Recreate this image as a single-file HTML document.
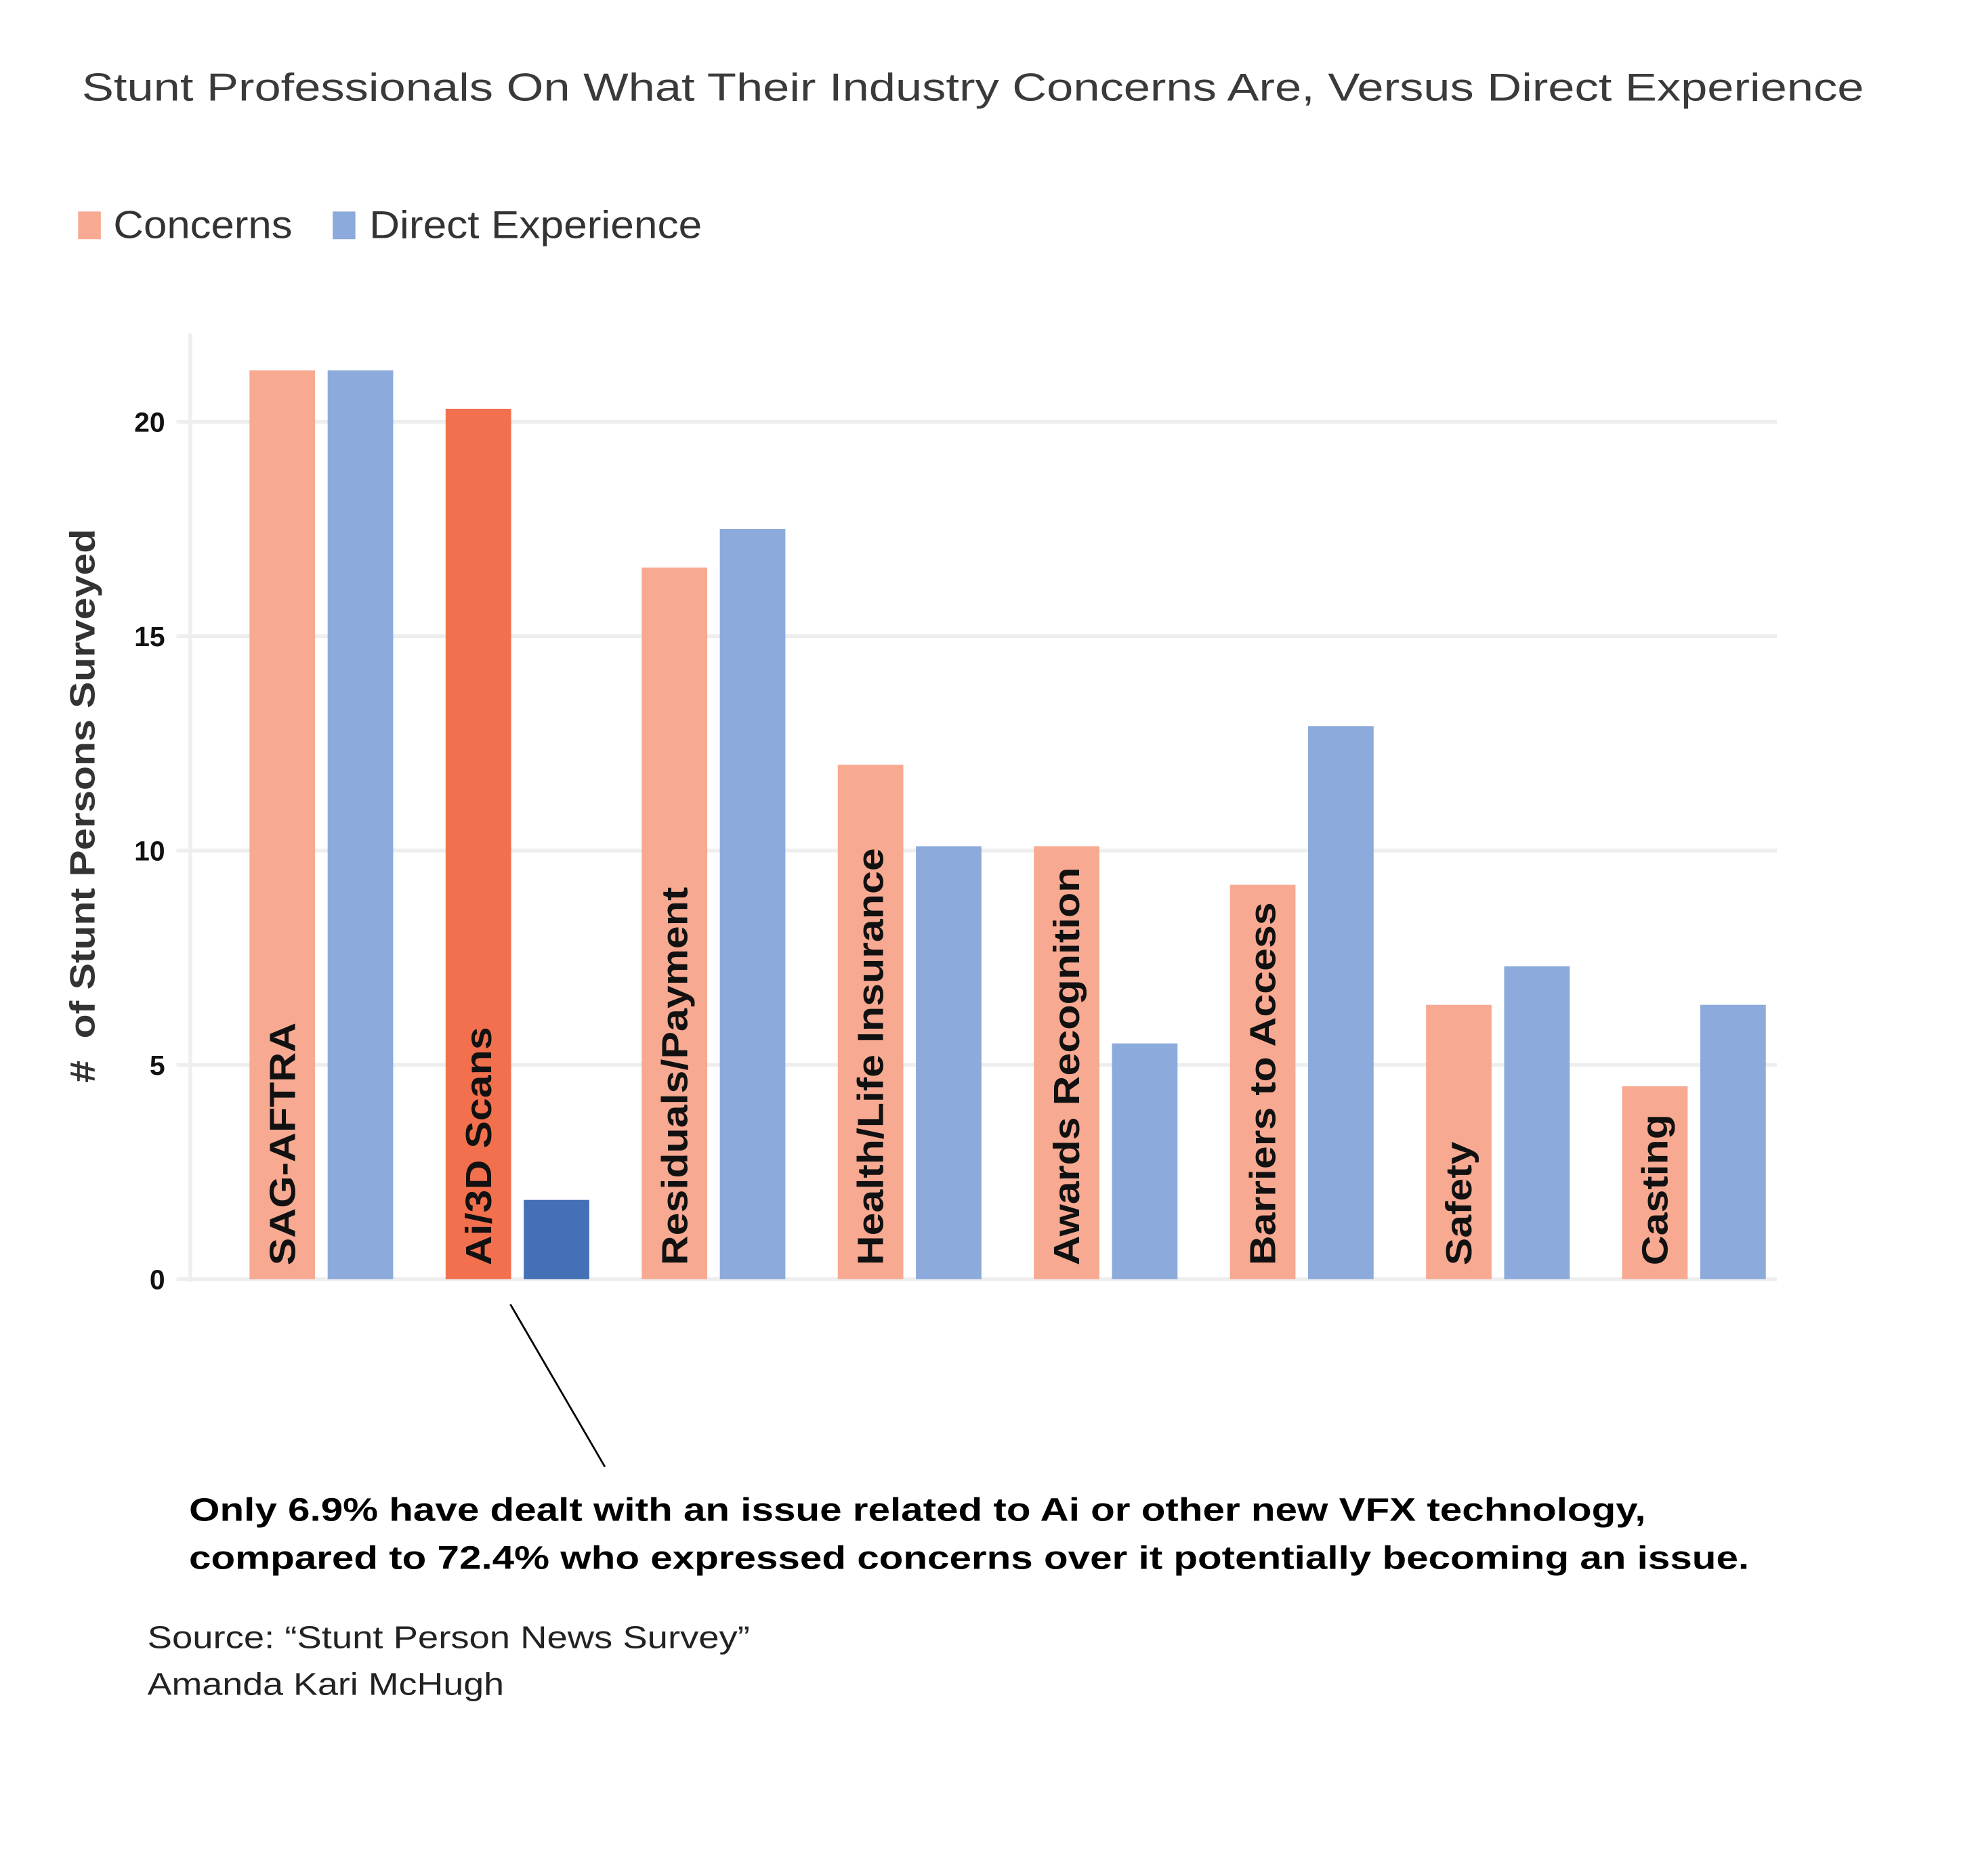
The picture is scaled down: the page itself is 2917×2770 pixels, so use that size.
<!DOCTYPE html>
<html><head><meta charset="utf-8"><style>
html,body{margin:0;padding:0;background:#fff;}
svg{display:block;}
text{font-family:"Liberation Sans",Arial,sans-serif;}
</style></head>
<body>
<svg id="chart" width="2917" height="2770" viewBox="0 0 1568 1490" preserveAspectRatio="none" xmlns="http://www.w3.org/2000/svg">
<rect width="1568" height="1490" fill="#fff"/>
<text x="772" y="80" text-anchor="middle" font-size="31" fill="#3a3a3a" textLength="1414" lengthAdjust="spacingAndGlyphs">Stunt Professionals On What Their Industry Concerns Are, Versus Direct Experience</text>
<g>
<rect x="62" y="168" width="18" height="22" fill="#F7A991"/>
<text x="90" y="189" font-size="31" fill="#333" textLength="142" lengthAdjust="spacingAndGlyphs">Concerns</text>
<rect x="264" y="168" width="18" height="22" fill="#8CAADB"/>
<text x="293" y="189" font-size="31" fill="#333" textLength="264" lengthAdjust="spacingAndGlyphs">Direct Experience</text>
</g>
<g id="grid"></g>
<line x1="151" y1="265" x2="151" y2="1018" stroke="#eeeeee" stroke-width="3"/>
<g id="ticks"></g>
<g id="bars"></g>
<g id="labels"></g>
<text transform="translate(75,640) rotate(-90)" text-anchor="middle" font-size="28" font-weight="bold" fill="#333" textLength="440" lengthAdjust="spacingAndGlyphs" xml:space="preserve">#  of Stunt Persons Surveyed</text>
<line x1="405" y1="1036" x2="480" y2="1165" stroke="#000" stroke-width="1.5"/>
<text x="150" y="1208" font-size="26" font-weight="bold" fill="#000" textLength="1156" lengthAdjust="spacingAndGlyphs">Only 6.9% have dealt with an issue related to Ai or other new VFX technology,</text>
<text x="150" y="1246" font-size="26" font-weight="bold" fill="#000" textLength="1238" lengthAdjust="spacingAndGlyphs">compared to 72.4% who expressed concerns over it potentially becoming an issue.</text>
<text x="117" y="1309" font-size="25" fill="#222" textLength="478" lengthAdjust="spacingAndGlyphs">Source: “Stunt Person News Survey”</text>
<text x="117" y="1346" font-size="25" fill="#222" textLength="283" lengthAdjust="spacingAndGlyphs">Amanda Kari McHugh</text>
</svg>
<script>
const categories = ["SAG-AFTRA","Ai/3D Scans","Residuals/Payment","Health/Life Insurance","Awards Recognition","Barriers to Access","Safety","Casting"];
const concernsValues = [21.2, 20.3, 16.6, 12.0, 10.1, 9.2, 6.4, 4.5];
const directValues = [21.2, 1.85, 17.5, 10.1, 5.5, 12.9, 7.3, 6.4];
const yTicks = [0, 5, 10, 15, 20];
const highlightCategory = "Ai/3D Scans";

const NS = "http://www.w3.org/2000/svg";
const y0 = 1016, unitPx = 34.05;
function yScale(v){ return y0 - v * unitPx; }
const groupStart = 198, groupStep = 155.6, barW = 52, barGap = 62;
function xScale(i){ return groupStart + i * groupStep; }
function mk(tag, attrs, parent){
  const el = document.createElementNS(NS, tag);
  for (const k in attrs) el.setAttribute(k, attrs[k]);
  parent.appendChild(el);
  return el;
}
const grid = document.getElementById('grid'), ticks = document.getElementById('ticks');
const bars = document.getElementById('bars'), labels = document.getElementById('labels');
yTicks.forEach(t => {
  const g = mk('line', {x1:140, x2:1410, y1:yScale(t), y2:yScale(t), stroke:'#eeeeee', 'stroke-width':3}, grid);
  
  
  const tx = mk('text', {x:131, y:yScale(t)+8, 'text-anchor':'end', 'font-size':22, 'font-weight':'bold', fill:'#111'}, ticks);
  tx.textContent = t;
  
  
});
categories.forEach((c, i) => {
  const hi = c === highlightCategory;
  const x = xScale(i);
  const slug = c.toLowerCase().replace(/[^a-z0-9]+/g, '-');
  const b1 = mk('rect', {x:x, y:yScale(concernsValues[i]), width:barW, height:concernsValues[i]*unitPx, fill: hi ? '#F2704D' : '#F7A991'}, bars);
  
  
  const b2 = mk('rect', {x:x+barGap, y:yScale(directValues[i]), width:barW, height:directValues[i]*unitPx, fill: hi ? '#4470B5' : '#8CAADB'}, bars);
  
  
  const lx = x + barW/2 + 10;
  const t = mk('text', {transform:'translate(' + lx + ',1005) rotate(-90)', 'font-size':29, 'font-weight':'bold', fill:'#111'}, labels);
  t.textContent = c;
  
  
  const w = t.getComputedTextLength();
  if (w > 0) { t.setAttribute('textLength', (w * 1.13).toFixed(1)); t.setAttribute('lengthAdjust', 'spacingAndGlyphs'); }
});
</script>
</body></html>
